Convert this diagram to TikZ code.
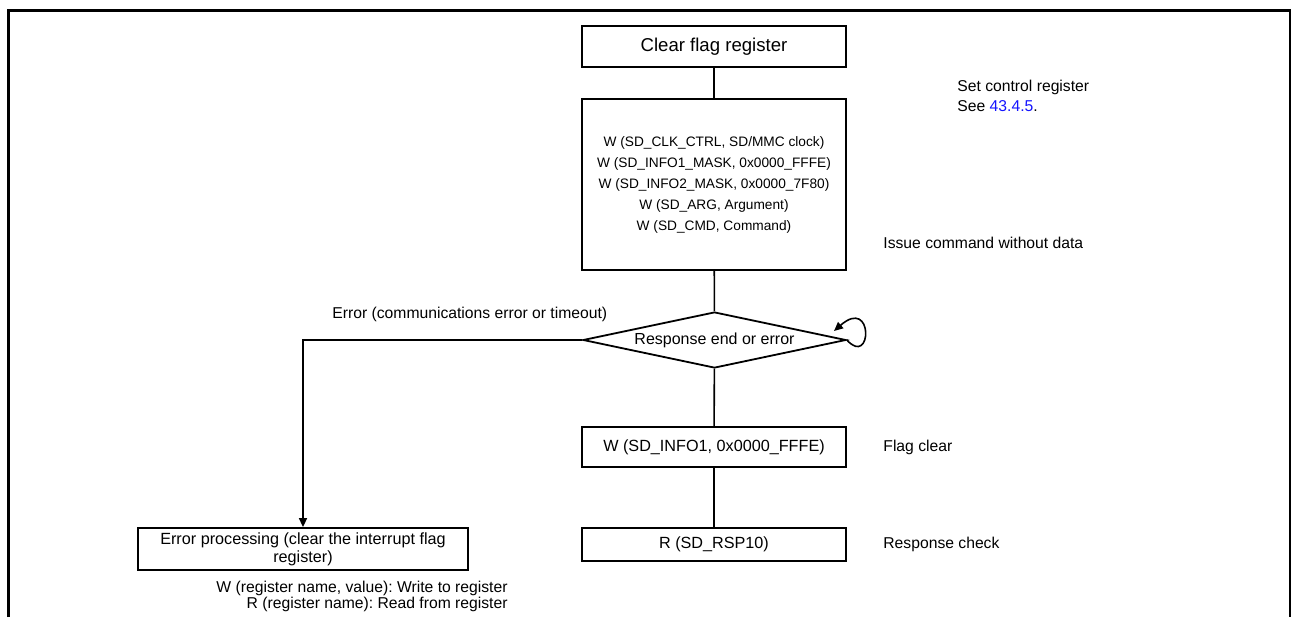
\documentclass[tikz,border=0pt]{standalone}
\usepackage{fontspec}
\setmainfont{Liberation Sans}
\usepackage{tikz}
\usetikzlibrary{arrows.meta, shapes.geometric}
\definecolor{linkblue}{RGB}{20, 20, 255}
\frenchspacing

\begin{document}
\begin{tikzpicture}[x=0.5pt, y=-0.5pt, >={Triangle[length=4.5pt, width=4pt]},
    box/.style={draw, line width=0.9pt, minimum width=132pt, inner sep=1pt, align=center},
    decision/.style={diamond, draw, line width=0.9pt, aspect=4.7, minimum width=131.5pt,
                     minimum height=28pt, inner sep=0pt, font=\fontsize{8}{9.6}\selectfont},
    note/.style={inner sep=0pt, font=\fontsize{7.85}{10}\selectfont},
    flow/.style={line width=0.8pt}]
  \useasboundingbox (0,0) rectangle (1291,617);
  % page frame
  \draw[line width=1.5pt] (8.5,617) -- (8.5,10.5) -- (1290,10.5) -- (1290,617);

  \node[box, minimum height=20.5pt, font=\fontsize{9.3}{11}\selectfont]
        (clr)  at (714, 46.5) {Clear flag register};
  \node[box, minimum height=85.5pt, font=\fontsize{6.85}{10.5}\selectfont]
        (init) at (714, 184.5) {W (SD\_CLK\_CTRL, SD/MMC clock)\\
                                W (SD\_INFO1\_MASK, 0x0000\_FFFE)\\
                                W (SD\_INFO2\_MASK, 0x0000\_7F80)\\
                                W (SD\_ARG, Argument)\\
                                W (SD\_CMD, Command)};
  \node[decision] (resp) at (714.5, 340) {Response end or error};
  \node[box, minimum height=20pt, font=\fontsize{8.1}{9.6}\selectfont]
        (fclr) at (714, 447) {W (SD\_INFO1, 0x0000\_FFFE)};
  \node[box, minimum height=16.5pt, font=\fontsize{8.1}{9.6}\selectfont]
        (rsp)  at (714, 544.5) {R (SD\_RSP10)};
  \node[box, minimum width=165pt, minimum height=21pt, font=\fontsize{8.1}{9}\selectfont]
        (err)  at (303, 549) {Error processing (clear the interrupt flag\\register)};
  \coordinate (lp) at (834, 331);

  % annotations
  \node[note, anchor=west, align=left] (setc) at (957, 96)
        {Set control register\\See \textcolor{linkblue}{43.4.5}.};
  \node[note, anchor=west] (issue) at (883, 243) {Issue command without data};
  \node[note, anchor=west] (fnote) at (883, 447) {Flag clear};
  \node[note, anchor=west] (rnote) at (883, 544.5) {Response check};
  \node[note, anchor=west] (elbl)  at (332, 314) {Error (communications error or timeout)};
  \node[note, anchor=east, align=right, font=\fontsize{7.85}{8}\selectfont] (legend) at (508, 596)
        {W (register name, value): Write to register\\R (register name): Read from register};

  \draw[flow] (clr) -- (init);
  \draw[flow] (init) -- (resp);
  \draw[flow] (resp) -- (fclr);
  \draw[flow] (fclr) -- (rsp);
  \draw[flow,->] (resp.west) -| (err.north);
  \draw[flow,->] (resp.east) .. controls (872, 368) and (874, 296) .. (lp);
\end{tikzpicture}
\end{document}
